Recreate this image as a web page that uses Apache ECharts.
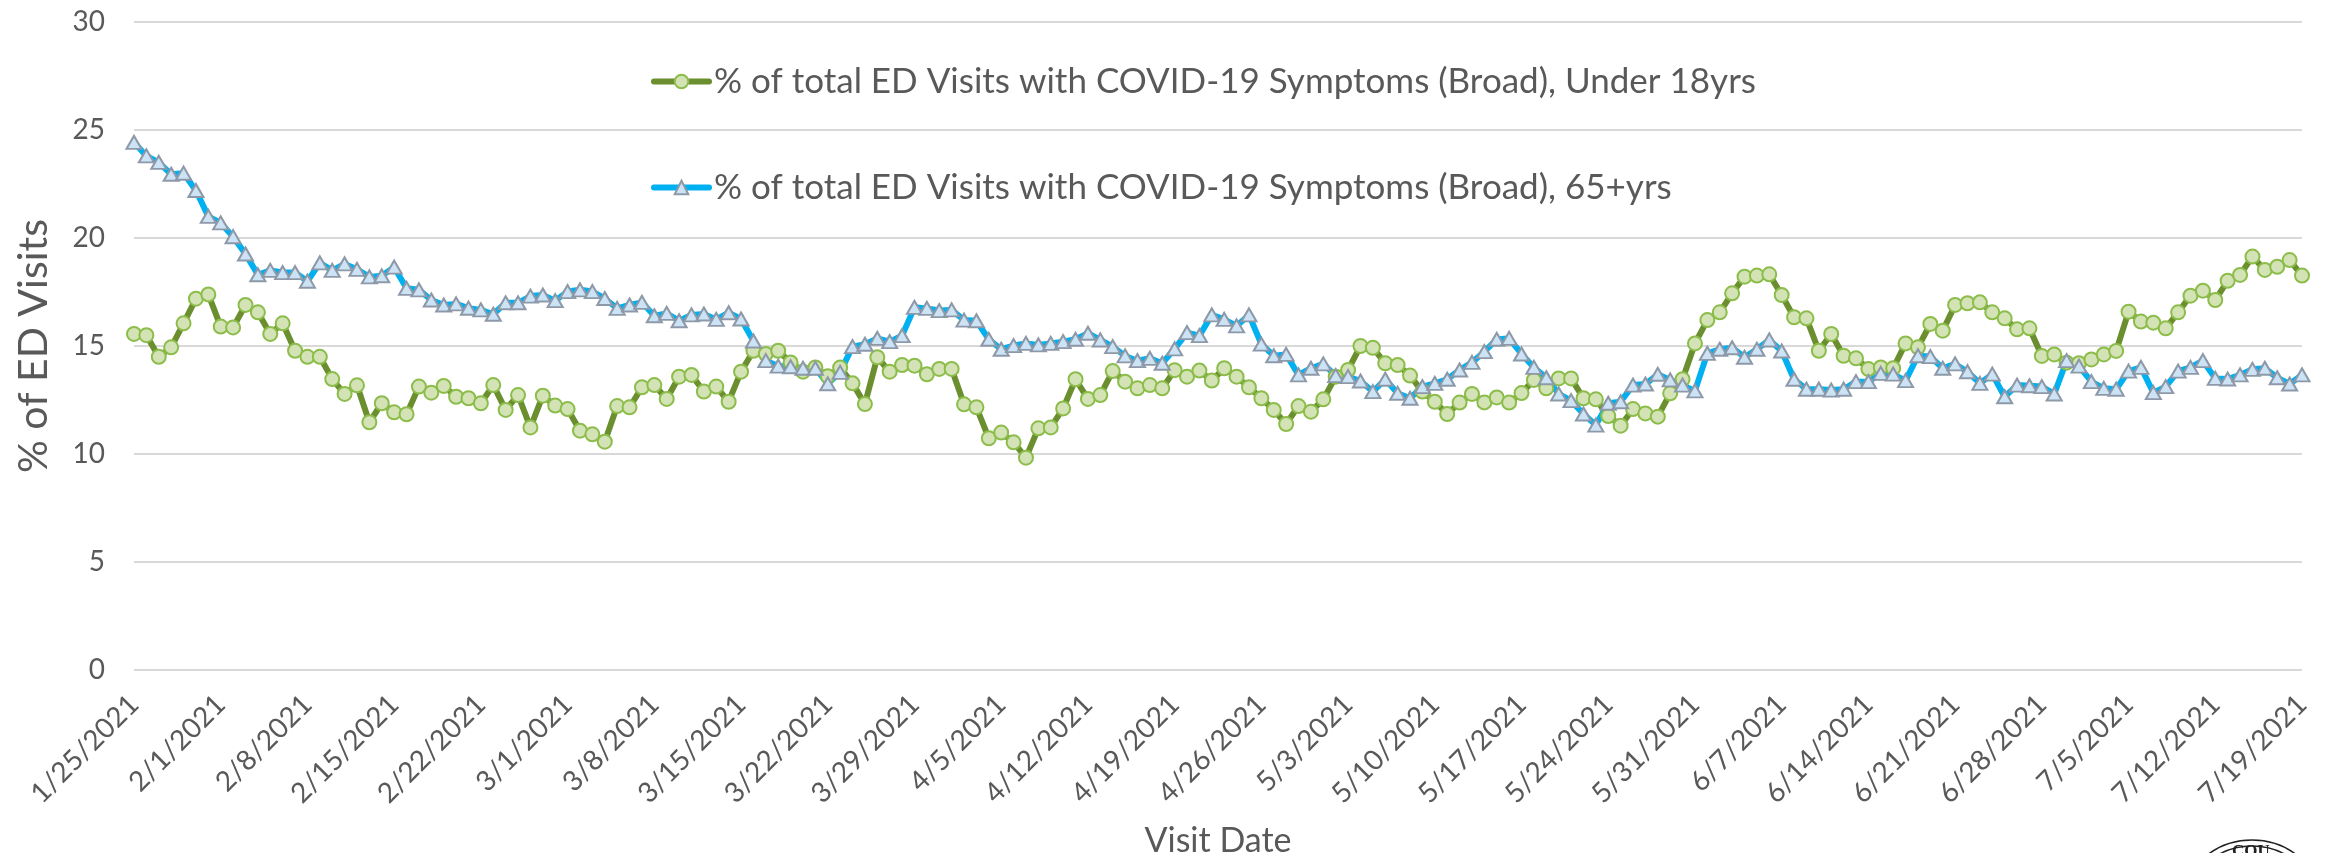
<!DOCTYPE html>
<html>
<head>
<meta charset="utf-8">
<script src="https://cdn.jsdelivr.net/npm/echarts@6/dist/echarts.min.js"></script>
<style>
  html, body { margin: 0; padding: 0; background: #fff; }
  #chart { width: 2333px; height: 853px; }
</style>
</head>
<body>
<div id="chart"></div>
<script>
// daily visit dates, 1/25/2021 .. 7/19/2021
var visitDates = [];
(function () {
    var d = new Date(2021, 0, 25);
    for (var i = 0; i < 176; i++) {
        visitDates.push((d.getMonth() + 1) + '/' + d.getDate() + '/' + d.getFullYear());
        d.setDate(d.getDate() + 1);
    }
})();

var under18 = [
    15.56, 15.5, 14.5, 14.94, 16.05, 17.19, 17.39, 15.9, 15.86, 16.9, 16.56, 15.56, 16.05, 14.78,
    14.5, 14.5, 13.47, 12.78, 13.18, 11.47, 12.35, 11.93, 11.84, 13.12, 12.84, 13.15, 12.65, 12.58,
    12.35, 13.19, 12.04, 12.73, 11.23, 12.7, 12.24, 12.08, 11.08, 10.91, 10.57, 12.22, 12.16, 13.09,
    13.19, 12.55, 13.58, 13.66, 12.89, 13.12, 12.42, 13.81, 14.78, 14.63, 14.78, 14.24, 13.81, 14.01,
    13.6, 14.0, 13.27, 12.31, 14.48, 13.81, 14.12, 14.09, 13.69, 13.94, 13.94, 12.3, 12.16, 10.73,
    10.99, 10.54, 9.83, 11.19, 11.23, 12.11, 13.46, 12.55, 12.73, 13.84, 13.35, 13.04, 13.19, 13.04,
    13.88, 13.58, 13.86, 13.4, 13.97, 13.58, 13.09, 12.58, 12.04, 11.39, 12.22, 11.96, 12.53, 13.58,
    13.89, 15.0, 14.92, 14.2, 14.12, 13.63, 12.89, 12.42, 11.85, 12.38, 12.78, 12.39, 12.62, 12.38,
    12.82, 13.43, 13.04, 13.5, 13.5, 12.58, 12.53, 11.76, 11.31, 12.08, 11.88, 11.73, 12.81, 13.46,
    15.12, 16.2, 16.56, 17.44, 18.21, 18.26, 18.32, 17.36, 16.33, 16.28, 14.78, 15.56, 14.55, 14.43,
    13.93, 14.01, 13.97, 15.12, 14.94, 16.02, 15.71, 16.9, 16.98, 17.02, 16.56, 16.28, 15.77, 15.82,
    14.54, 14.61, 14.23, 14.2, 14.38, 14.61, 14.77, 16.59, 16.13, 16.08, 15.82, 16.56, 17.33, 17.56,
    17.13, 18.02, 18.29, 19.14, 18.52, 18.67, 18.98, 18.26
];

var over65 = [
    24.43, 23.8, 23.5, 22.95, 23.0, 22.2, 21.0, 20.7, 20.06, 19.26, 18.3, 18.5, 18.4, 18.4,
    18.0, 18.85, 18.5, 18.8, 18.55, 18.2, 18.25, 18.65, 17.67, 17.6, 17.13, 16.9, 16.95, 16.75,
    16.67, 16.47, 17.0, 17.0, 17.31, 17.36, 17.1, 17.52, 17.6, 17.52, 17.2, 16.74, 16.9, 17.02,
    16.4, 16.51, 16.17, 16.44, 16.48, 16.23, 16.54, 16.25, 15.23, 14.32, 14.07, 14.04, 13.97, 13.97,
    13.25, 13.78, 14.97, 15.08, 15.35, 15.2, 15.48, 16.79, 16.74, 16.64, 16.67, 16.2, 16.17, 15.31,
    14.85, 15.02, 15.12, 15.05, 15.12, 15.2, 15.31, 15.59, 15.28, 14.97, 14.54, 14.32, 14.43, 14.2,
    14.87, 15.62, 15.48, 16.44, 16.23, 15.93, 16.44, 15.09, 14.55, 14.61, 13.66, 13.97, 14.17, 13.63,
    13.58, 13.38, 12.89, 13.46, 12.81, 12.58, 13.12, 13.27, 13.46, 13.89, 14.24, 14.74, 15.31, 15.35,
    14.63, 14.01, 13.53, 12.78, 12.47, 11.85, 11.34, 12.35, 12.42, 13.19, 13.24, 13.69, 13.43, 13.19,
    12.92, 14.66, 14.85, 14.92, 14.48, 14.85, 15.28, 14.77, 13.46, 13.0, 13.0, 12.96, 13.0, 13.35,
    13.35, 13.73, 13.7, 13.4, 14.55, 14.51, 13.97, 14.17, 13.81, 13.27, 13.7, 12.65, 13.19, 13.16,
    13.12, 12.78, 14.32, 14.07, 13.35, 13.04, 13.0, 13.84, 14.01, 12.84, 13.12, 13.84, 14.01, 14.32,
    13.5, 13.47, 13.66, 13.92, 13.97, 13.53, 13.24, 13.66
];

var seriesNames = [
    '% of total ED Visits with COVID-19 Symptoms (Broad), Under 18yrs',
    '% of total ED Visits with COVID-19 Symptoms (Broad), 65+yrs'
];

var textColor = '#595959';
var fontFamily = 'Lato, "Open Sans", sans-serif';

var legendCommon = {
    left: 646,
    itemWidth: 55, itemHeight: 17,
    lineStyle: {width: 6, cap: 'round'},
    textStyle: {fontFamily: fontFamily, fontSize: 35, color: textColor}
};

var chart = echarts.init(document.getElementById('chart'), null, {renderer: 'canvas'});

chart.setOption({
    backgroundColor: '#ffffff',
    animation: false,
    textStyle: {fontFamily: fontFamily, color: textColor},
    grid: {left: 134, right: 31, top: 22, bottom: 183, containLabel: false, outerBoundsMode: 'none'},
    legend: [
        Object.assign({data: [seriesNames[0]], top: 59}, legendCommon),
        Object.assign({data: [seriesNames[1]], top: 165}, legendCommon)
    ],
    // partial county seal in the bottom right corner
    graphic: [{
        type: 'circle', shape: {cx: 2252, cy: 914, r: 74},
        style: {fill: '#fff', stroke: '#222', lineWidth: 1.5}, silent: true
    }, {
        type: 'circle', shape: {cx: 2252, cy: 914, r: 68},
        style: {fill: 'none', stroke: '#222', lineWidth: 1.5}, silent: true
    }, {
        type: 'text', left: 2232, top: 843,
        style: {text: 'COU', fontFamily: '"Liberation Serif", serif', fontWeight: 'bold', fontSize: 17, fill: '#222'},
        silent: true
    }],
    xAxis: {
        type: 'category',
        data: visitDates,
        boundaryGap: false,
        name: 'Visit Date',
        nameLocation: 'middle',
        nameGap: 154,
        nameTextStyle: {fontSize: 34, color: textColor, fontFamily: fontFamily},
        axisLine: {show: false},
        axisTick: {show: false},
        axisLabel: {
            interval: 6, rotate: 45, margin: 30,
            fontSize: 28, color: textColor, fontFamily: fontFamily
        },
        splitLine: {show: false}
    },
    yAxis: {
        type: 'value',
        min: 0, max: 30, interval: 5,
        name: '% of ED Visits',
        nameLocation: 'middle',
        nameGap: 80,
        nameTextStyle: {fontSize: 41, color: textColor, fontFamily: fontFamily},
        axisLine: {show: false},
        axisTick: {show: false},
        axisLabel: {margin: 29, fontSize: 28, color: textColor, fontFamily: fontFamily},
        splitLine: {lineStyle: {color: '#d9d9d9', width: 2}}
    },
    series: [{
        name: seriesNames[0],
        type: 'line',
        data: under18,
        symbol: 'circle',
        symbolSize: 14,
        showAllSymbol: true,
        lineStyle: {color: '#6b8e2f', width: 6},
        itemStyle: {color: '#d3e3b5', borderColor: '#8cbd4a', borderWidth: 2}
    }, {
        name: seriesNames[1],
        type: 'line',
        data: over65,
        symbol: 'triangle',
        symbolSize: [15, 13],
        showAllSymbol: true,
        lineStyle: {color: '#00b0f0', width: 6},
        itemStyle: {color: '#cce2f5', borderColor: '#8d99a8', borderWidth: 2}
    }]
});
</script>
</body>
</html>
